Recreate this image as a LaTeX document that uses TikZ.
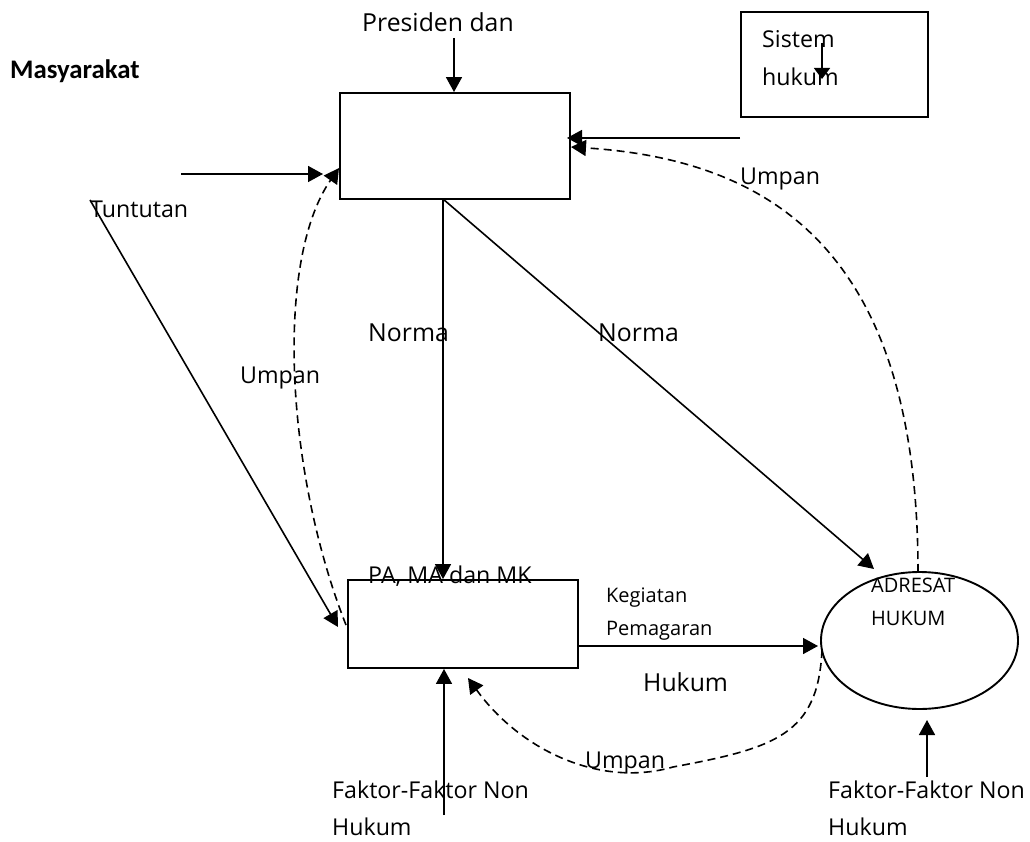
\documentclass[tikz,border=0pt]{standalone}
\usepackage{fontspec}
\setmainfont{Open Sans}
\newfontfamily\calib{Carlito}
\usetikzlibrary{arrows.meta,shapes.geometric}
\begin{document}
\begin{tikzpicture}[x=1pt,y=-1pt,
  box/.style={draw,line width=1.9pt,minimum width=#1,inner sep=0pt},
  lbl/.style={anchor=base west,inner sep=0pt,font=\fontsize{23.2}{26}\selectfont},
  big/.style={anchor=base west,inner sep=0pt,font=\fontsize{24.8}{28}\selectfont},
  small/.style={anchor=base west,inner sep=0pt,font=\fontsize{20}{23}\selectfont},
  arr/.style={line width=1.6pt,-{Triangle[length=15pt,width=16pt]}},
  darr/.style={line width=1.6pt,dash pattern=on 8pt off 5pt,-{Triangle[length=15pt,width=16pt]}}]
\useasboundingbox (0,0) rectangle (1030,842);
\fill[white] (0,0) rectangle (1030,842);

% boxes
\node[box=230pt,minimum height=106pt] (top) at (455,146) {};
\node[box=230pt,minimum height=88pt] (bot) at (463,624) {};
\node[box=187pt,minimum height=105pt] (sys) at (834.5,64.5) {};
\node[draw,ellipse,line width=1.9pt,minimum width=197pt,minimum height=137pt,inner sep=0pt] (adr) at (919.5,640.5) {};

% texts
\node[anchor=base west,inner sep=0pt,font=\calib\bfseries\fontsize{26.8}{30}\selectfont] (masy) at (10,79) {Masyarakat};
\node[big] (pres) at (362,32) {Presiden dan};
\node[lbl] (tunt) at (90,218) {Tuntutan};
\node[big] (norma1) at (368,341) {Norma};
\node[big] (norma2) at (598,341) {Norma};
\node[lbl] (umpan1) at (240,383) {Umpan};
\node[lbl] (umpan2) at (740,185) {Umpan};
\node[lbl] (umpan3) at (585,768) {Umpan};
\node[lbl] (sis1) at (762,48) {Sistem};
\node[lbl] (sis2) at (762,86) {hukum};
\node[lbl] (pama) at (368,583) {PA, MA dan MK};
\node[small] (keg1) at (606,602) {Kegiatan};
\node[small] (keg2) at (606,635) {Pemagaran};
\node[big] (hukum) at (643,691) {Hukum};
\node[small] (adr1) at (871,592) {ADRESAT};
\node[small] (adr2) at (871,625) {HUKUM};
\node[lbl] (fak1) at (332,798) {Faktor-Faktor Non};
\node[lbl] (fak1b) at (332,835) {Hukum};
\node[lbl] (fak2) at (828,798) {Faktor-Faktor Non};
\node[lbl] (fak2b) at (828,835) {Hukum};

% coordinates
\coordinate (presA) at (454,38);
\coordinate (rinA) at (740,138);
\coordinate (rinB) at (567,138);
\coordinate (linA) at (181,174);
\coordinate (linB) at (323,174);
\coordinate (tuA) at (90,200);
\coordinate (tuB) at (338,627);
\coordinate (n1) at (443,199);
\coordinate (n2) at (874,569);
\coordinate (hA) at (578,646);
\coordinate (hB) at (818,646);
\coordinate (f1) at (444,815);
\coordinate (f2) at (927,777);
\coordinate (f2B) at (927,720);
\coordinate (sA) at (822,43);
\coordinate (sB) at (822,79);
\coordinate (dlA) at (346,625);
\coordinate (dlB) at (339,168);
\coordinate (drA) at (918,572);
\coordinate (drB) at (571,147);
\coordinate (dbA) at (822,650);
\coordinate (dbM) at (673,767);
\coordinate (dbB) at (468,678);

% connectors
\draw[arr] (presA) -- (presA |- top.north);
\draw[arr] (rinA) -- (rinB);
\draw[arr] (linA) -- (linB);
\draw[arr] (tuA) -- (tuB);
\draw[arr] (n1) -- (n1 |- bot.north);
\draw[arr] (n1) -- (n2);
\draw[arr] (hA) -- (hB);
\draw[arr] (f1) -- (f1 |- bot.south);
\draw[arr] (f2) -- (f2B);
\draw[line width=1.6pt,-{Triangle[length=11pt,width=16pt]}] (sA) -- (sB);

\draw[darr] (dlA) .. controls (285,470) and (275,260) .. (dlB);
\draw[darr] (drA) .. controls (918,260) and (780,160) .. (drB);
\draw[darr] (dbA) .. controls (818,735) and (775,748) .. (dbM) .. controls (600,788) and (520,750) .. (dbB);
\end{tikzpicture}
\end{document}
